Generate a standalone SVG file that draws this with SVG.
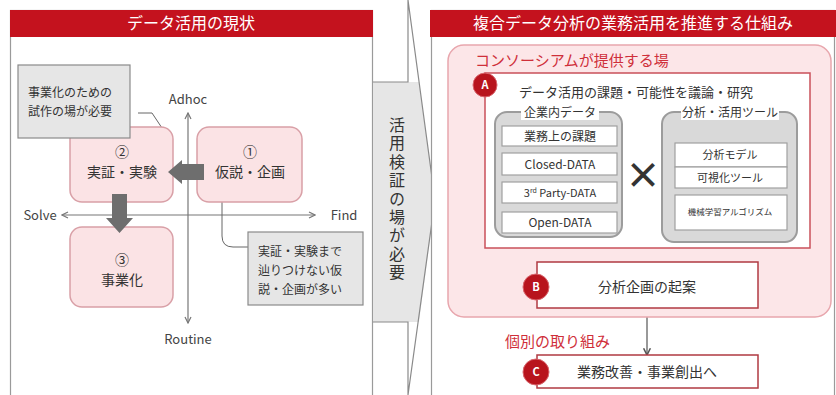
<svg xmlns="http://www.w3.org/2000/svg" width="836" height="395" viewBox="0 0 836 395">
<defs>
<style>
text{font-family:"Noto Sans CJK JP","Noto Sans",sans-serif;fill:#333;}
.hdr{fill:#c4121e;}
.ht{fill:#fff;font-size:16px;text-anchor:middle;}
.panel{fill:#fff;stroke:#9a9a9a;stroke-width:1.2;}
.pbox{fill:#fbe3e5;stroke:#d9a0a7;stroke-width:1.5;}
.call{fill:#e6e6e6;stroke:#8a8a8a;stroke-width:1.2;}
.ct{font-size:12px;}
.bt{font-size:14px;text-anchor:middle;}
.ax{font-size:13px;text-anchor:middle;fill:#444;}
.axis{stroke:#777;stroke-width:1.2;fill:none;}
.lead{stroke:#666;stroke-width:1;fill:none;}
.thick{fill:#6e6e6e;}
.grp{fill:#d9d9d9;stroke:#9c9c9c;stroke-width:2;}
.item{fill:#fff;stroke:#a0a0a0;stroke-width:1.2;}
.it{text-anchor:middle;}
.badge{fill:#b8141d;stroke:#d8666d;stroke-width:1;}
.bl{fill:#fff;font-size:11px;font-weight:bold;text-anchor:middle;}
.red{fill:#cf2f3a;}
.flow{stroke:#555;stroke-width:1.2;fill:none;}
</style>
<marker id="oa" viewBox="0 0 8 8" refX="7" refY="4" markerWidth="8" markerHeight="8" orient="auto-start-reverse" markerUnits="userSpaceOnUse">
<path d="M1,1 L7,4 L1,7" fill="none" stroke="#777" stroke-width="1.2"/>
</marker>
<marker id="fa" viewBox="0 0 8 8" refX="7" refY="4" markerWidth="9" markerHeight="9" orient="auto" markerUnits="userSpaceOnUse">
<path d="M1,1 L7,4 L1,7" fill="none" stroke="#555" stroke-width="1.4"/>
</marker>
</defs>

<!-- Left panel -->
<g id="left-panel">
<rect class="panel" x="10.5" y="10.5" width="362" height="395"/>
<rect class="hdr" x="10" y="10" width="363" height="27"/>
<text class="ht" x="191" y="29">データ活用の現状</text>
</g>

<!-- Middle arrow -->
<g id="middle-arrow">
<polygon points="373,82 419,82 435,200 419,322 373,322" fill="#e6e6e6"/>
<path d="M373,82 H408 V0 M408,0 L435,200 L408,395 M408,395 V322 H373" fill="none" stroke="#8a8a8a" stroke-width="1.2"/>
<text x="397" y="117" style="writing-mode:vertical-rl;font-size:16px;letter-spacing:2.4px;">活用検証の場が必要</text>
</g>

<!-- Right panel -->
<g id="right-panel">
<rect class="panel" x="431.5" y="10.5" width="403" height="395"/>
<rect class="hdr" x="430" y="10" width="406" height="27"/>
<text class="ht" x="633" y="29">複合データ分析の業務活用を推進する仕組み</text>
</g>

<!-- Connectors -->
<g id="connectors">
<line class="axis" x1="188" y1="323" x2="188" y2="113" marker-start="url(#oa)" marker-end="url(#oa)"/>
<line class="axis" x1="62" y1="215" x2="315" y2="215" marker-start="url(#oa)" marker-end="url(#oa)"/>
<polyline class="lead" points="138,113 152,113 162,128"/>
<path class="lead" d="M222,192 V236 Q222,247 233,247 H248"/>
<line class="flow" x1="647" y1="248" x2="647" y2="262" marker-end="url(#fa)"/>
<line class="flow" x1="647" y1="308" x2="647" y2="355" marker-end="url(#fa)"/>
</g>

<!-- Left quadrant nodes -->
<g id="node-2">
<rect class="pbox" x="70" y="127" width="103" height="75" rx="12"/>
<text class="bt" x="122" y="157">②</text>
<text class="bt" x="122" y="177">実証・実験</text>
</g>
<g id="node-1">
<rect class="pbox" x="197" y="127" width="105" height="75" rx="12"/>
<text class="bt" x="250" y="157">①</text>
<text class="bt" x="250" y="177">仮説・企画</text>
</g>
<g id="node-3">
<rect class="pbox" x="70" y="227" width="103" height="80" rx="12"/>
<text class="bt" x="122" y="265">③</text>
<text class="bt" x="122" y="285">事業化</text>
</g>
<g id="thick-arrows">
<polygon class="thick" points="168,172 182,160 182,164 204,164 204,180 182,180 182,184"/>
<polygon class="thick" points="112,194 127,194 127,218 133,218 119.5,233 106,218 112,218"/>
</g>
<g id="axis-labels">
<text class="ax" x="188" y="104">Adhoc</text>
<text class="ax" x="188" y="344">Routine</text>
<text class="ax" x="40" y="220">Solve</text>
<text class="ax" x="344" y="220">Find</text>
</g>
<g id="callout-1">
<rect class="call" x="18" y="65" width="112" height="73"/>
<text class="ct" x="28" y="97">事業化のための</text>
<text class="ct" x="28" y="116">試作の場が必要</text>
</g>
<g id="callout-2">
<rect class="call" x="248" y="232" width="115" height="73"/>
<text class="ct" x="258" y="256">実証・実験まで</text>
<text class="ct" x="258" y="275">辿りつけない仮</text>
<text class="ct" x="258" y="294">説・企画が多い</text>
</g>

<!-- Right side nodes -->
<g id="consortium">
<rect x="448" y="45" width="383" height="272" rx="16" fill="#fce6e8" stroke="#e8a6ad" stroke-width="1.5"/>
<text class="red" x="475" y="66" style="font-size:15px">コンソーシアムが提供する場</text>
</g>
<g id="node-A">
<rect x="485" y="73" width="325" height="175" fill="#fff" stroke="#c9505a" stroke-width="1.5"/>
<circle class="badge" cx="485" cy="85" r="12"/>
<text class="bl" x="485" y="89">A</text>
<text x="519" y="97" style="font-size:13px">データ活用の課題・可能性を議論・研究</text>
</g>
<g id="group-internal-data">
<rect class="grp" x="495" y="112" width="127" height="125" rx="12"/>
<rect x="521" y="106" width="78" height="14" fill="#fff"/>
<text class="it" x="560" y="117" style="font-size:12px">企業内データ</text>
<rect class="item" x="502" y="126" width="115" height="20"/>
<text class="it" x="560" y="140.5" style="font-size:12px">業務上の課題</text>
<rect class="item" x="502" y="153" width="115" height="22"/>
<text class="it" x="560" y="168.5" style="font-size:12px">Closed-DATA</text>
<rect class="item" x="502" y="182" width="115" height="21"/>
<text class="it" x="560" y="197" style="font-size:11px">3<tspan style="font-size:7px" dy="-4">rd</tspan><tspan dy="4"> Party-DATA</tspan></text>
<rect class="item" x="502" y="212" width="115" height="21"/>
<text class="it" x="560" y="227" style="font-size:12px">Open-DATA</text>
</g>
<g id="cross">
<text x="643" y="189" style="font-size:36px;font-weight:bold" text-anchor="middle">×</text>
</g>
<g id="group-tools">
<rect class="grp" x="662" y="112" width="135" height="130" rx="12"/>
<rect x="681" y="106" width="98" height="14" fill="#fff"/>
<text class="it" x="730" y="117" style="font-size:12px">分析・活用ツール</text>
<rect class="item" x="675" y="143" width="112" height="24"/>
<text class="it" x="730" y="159" style="font-size:11px">分析モデル</text>
<rect class="item" x="675" y="167" width="112" height="21"/>
<text class="it" x="730" y="182" style="font-size:11px">可視化ツール</text>
<rect class="item" x="675" y="195" width="112" height="35"/>
<text class="it" x="730" y="215" style="font-size:8.5px">機械学習アルゴリズム</text>
</g>
<g id="node-B">
<rect x="537" y="262" width="221" height="46" fill="#fff" stroke="#b03a42" stroke-width="1.5"/>
<circle class="badge" cx="536" cy="287" r="13"/>
<text class="bl" x="536" y="291">B</text>
<text x="647" y="292" style="font-size:14px" text-anchor="middle">分析企画の起案</text>
</g>
<g id="individual">
<text class="red" x="505" y="347" style="font-size:15px">個別の取り組み</text>
</g>
<g id="node-C">
<rect x="537" y="355" width="221" height="33" fill="#fff" stroke="#b03a42" stroke-width="1.5"/>
<circle class="badge" cx="536" cy="372" r="13"/>
<text class="bl" x="536" y="376">C</text>
<text x="647" y="377" style="font-size:14px" text-anchor="middle">業務改善・事業創出へ</text>
</g>
</svg>
